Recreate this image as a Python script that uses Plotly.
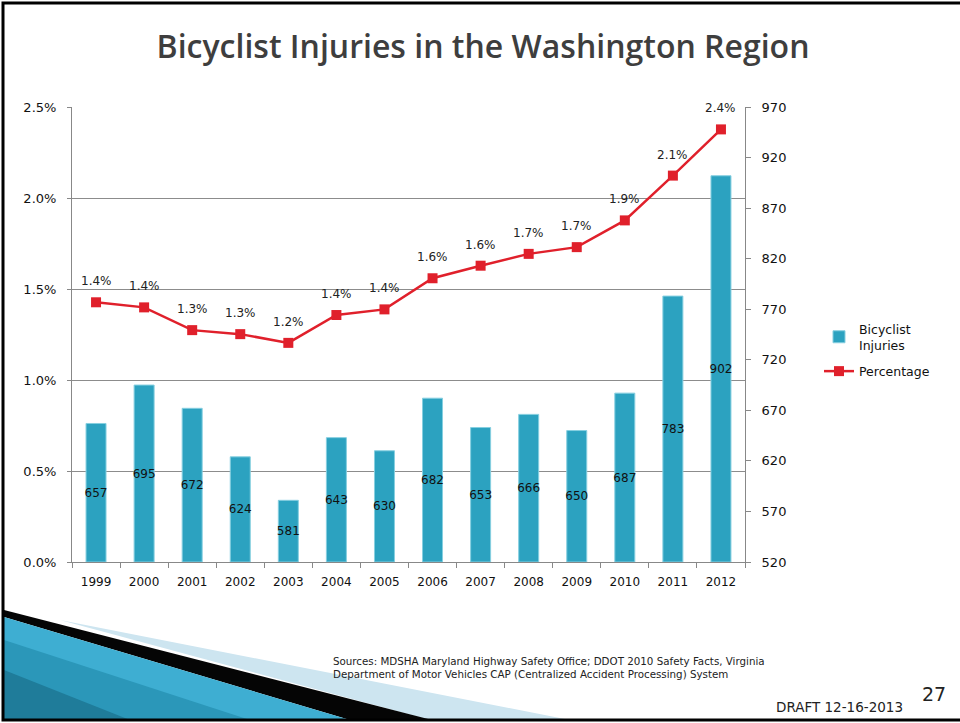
import plotly.graph_objects as go

years = ["1999", "2000", "2001", "2002", "2003", "2004", "2005",
         "2006", "2007", "2008", "2009", "2010", "2011", "2012"]
injuries = [657, 695, 672, 624, 581, 643, 630, 682, 653, 666, 650, 687, 783, 902]
percentage = [0.01427, 0.01399, 0.01274, 0.01252, 0.01204, 0.01357, 0.01388,
              0.01559, 0.01628, 0.01693, 0.01730, 0.01877, 0.02123, 0.02377]
pct_labels = ["1.4%", "1.4%", "1.3%", "1.3%", "1.2%", "1.4%", "1.4%",
              "1.6%", "1.6%", "1.7%", "1.7%", "1.9%", "2.1%", "2.4%"]
inj_base = 520

W, H = 960, 723
L, R, T, B = 72, 745, 107, 562


def px(x):
    return (x - L) / (R - L)


def py(y):
    return (B - y) / (B - T)


def path(pts):
    return "M " + " L ".join(f"{px(x):.5f},{py(y):.5f}" for x, y in pts) + " Z"


FONT = "DejaVu Sans"

fig = go.Figure()

fig.add_trace(go.Scatter(
    x=years, y=percentage, name="Percentage", yaxis="y",
    legendgroup="pct", legendrank=2,
    mode="lines+markers",
    line=dict(color="#e0202b", width=2.5),
    marker=dict(symbol="square", size=10, color="#e0202b"),
    cliponaxis=False,
))

fig.add_trace(go.Bar(
    x=years, y=[v - inj_base for v in injuries], base=inj_base,
    name="Bicyclist<br>Injuries", yaxis="y2",
    legendgroup="inj", legendrank=1,
    marker=dict(color="#2ca2c0", line=dict(color="#86cfe0", width=1)),
    text=[str(v) for v in injuries], textposition="inside",
    insidetextanchor="middle", textangle=0, constraintext="none",
    insidetextfont=dict(family=FONT, size=12, color="#111111"),
))

shapes = []
# decorative wedges bottom-left
shapes.append(dict(type="path", xref="paper", yref="paper", layer="below",
                   path=path([(60, 620), (570, 720), (430, 720)]),
                   fillcolor="#cde5f0", line=dict(width=0)))
shapes.append(dict(type="path", xref="paper", yref="paper", layer="below",
                   path=path([(4, 610), (432, 720), (350, 720), (4, 617)]),
                   fillcolor="#050505", line=dict(width=0)))
shapes.append(dict(type="path", xref="paper", yref="paper", layer="below",
                   path=path([(4, 617), (350, 720), (4, 720)]),
                   fillcolor="#3eaed2", line=dict(width=0)))
shapes.append(dict(type="path", xref="paper", yref="paper", layer="below",
                   path=path([(4, 640), (250, 720), (4, 720)]),
                   fillcolor="#2b97b9", line=dict(width=0)))
shapes.append(dict(type="path", xref="paper", yref="paper", layer="below",
                   path=path([(4, 670), (130, 720), (4, 720)]),
                   fillcolor="#1f7c9a", line=dict(width=0)))
# slide border
shapes.append(dict(type="rect", xref="paper", yref="paper", layer="above",
                   x0=px(3), x1=px(975), y0=py(3), y1=py(720),
                   line=dict(color="#000000", width=3), fillcolor="rgba(0,0,0,0)"))

annotations = [
    dict(text=lab, x=i, y=p, xref="x", yref="y", yshift=21, showarrow=False,
         xanchor="center", yanchor="middle",
         font=dict(family=FONT, size=12, color="#222222"))
    for i, (p, lab) in enumerate(zip(percentage, pct_labels))
]
annotations += [
    dict(text="Sources: MDSHA Maryland Highway Safety Office; DDOT 2010 Safety Facts, Virginia<br>"
              "Department of Motor Vehicles CAP (Centralized Accident Processing) System",
         xref="paper", yref="paper", x=px(331), y=py(653), xanchor="left", yanchor="top",
         showarrow=False, align="left",
         font=dict(family=FONT, size=10.3, color="#222222")),
    dict(text="DRAFT 12-16-2013", xref="paper", yref="paper", x=px(774), y=py(707),
         xanchor="left", yanchor="middle", showarrow=False,
         font=dict(family=FONT, size=13.5, color="#222222")),
    dict(text="27", xref="paper", yref="paper", x=px(934), y=py(694),
         xanchor="center", yanchor="middle", showarrow=False,
         font=dict(family=FONT, size=19, color="#222222")),
]

fig.update_layout(
    width=W, height=H,
    margin=dict(l=L, r=W - R, t=T, b=H - B, autoexpand=False),
    paper_bgcolor="white", plot_bgcolor="white",
    font=dict(family=FONT, size=12, color="#111111"),
    title=dict(text="Bicyclist Injuries in the Washington Region",
               x=483 / W, xref="container", xanchor="center",
               y=1 - 47 / H, yref="container", yanchor="middle",
               font=dict(family="Open Sans", size=32, color="#3e3e3e", weight=600)),
    bargap=0.584,
    showlegend=True,
    legend=dict(x=px(819), y=py(314), xanchor="left", yanchor="top",
                font=dict(family=FONT, size=12.5, color="#111111"),
                traceorder="grouped", bgcolor="rgba(0,0,0,0)",
                itemwidth=30, tracegroupgap=7),
    xaxis=dict(type="category", range=[-0.5, len(years) - 0.5],
               tickson="boundaries", ticks="outside", ticklen=5,
               tickcolor="#888888", showline=True, linecolor="#888888", linewidth=1,
               showgrid=False, ticklabelstandoff=9,
               tickfont=dict(family=FONT, size=12, color="#111111")),
    yaxis=dict(range=[0, 0.025], dtick=0.005, tickformat=".1%", ticks="outside",
               ticklen=4, tickcolor="#888888", showline=True, linecolor="#888888",
               showgrid=True, gridcolor="#8c8c8c", gridwidth=1, zeroline=False,
               ticklabelstandoff=8,
               tickfont=dict(family=FONT, size=13, color="#111111")),
    yaxis2=dict(range=[520, 970], tick0=520, dtick=50, overlaying="y", side="right",
                ticks="outside", ticklen=5, tickcolor="#888888", showline=True,
                linecolor="#888888", showgrid=False, zeroline=False,
                tickfont=dict(family=FONT, size=13, color="#111111"), ticklabelstandoff=8),
    shapes=shapes,
    annotations=annotations,
)

fig.write_html("out.html", config={"displayModeBar": False},
               post_script="document.body.style.margin='0';document.body.style.overflow='hidden';")
